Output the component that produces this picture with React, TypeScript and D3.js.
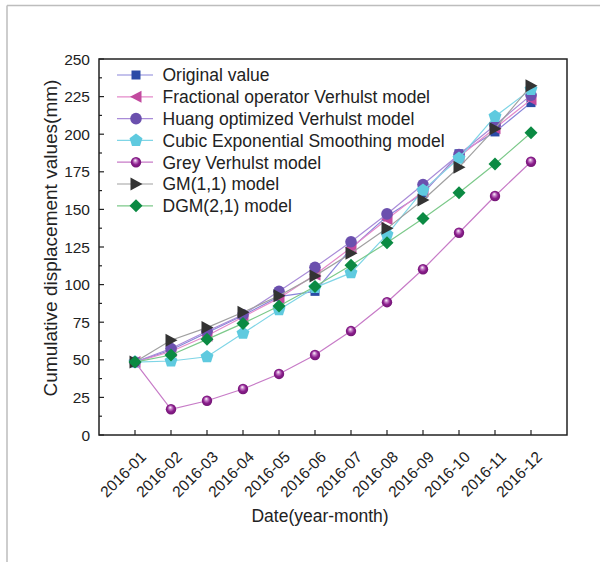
import React from 'react';
import * as d3 from 'd3';

const months = ['2016-01', '2016-02', '2016-03', '2016-04', '2016-05', '2016-06',
  '2016-07', '2016-08', '2016-09', '2016-10', '2016-11', '2016-12'];

const originalValue = [48.5, 56.5, 68, 79.5, 92, 95.5, 124, 145.5, 160.5, 187, 201.5, 221];
const fractionalVerhulst = [48.5, 55.5, 66, 78.5, 91, 106.5, 124.5, 143.5, 162, 185, 204, 223];
const huangVerhulst = [48.5, 57.5, 69, 80, 95.5, 111.5, 128.5, 147, 166.5, 186.5, 206, 226];
const cubicSmoothing = [48.5, 49.2, 52, 67.6, 83.3, 98, 107.8, 133.2, 162.7, 184, 211.8, 229.8];
const greyVerhulst = [48.5, 17.1, 22.8, 30.6, 40.6, 53.2, 69.1, 88.3, 110.2, 134.5, 158.9, 181.7];
const gm11 = [48.5, 63, 71.4, 81.6, 92.6, 105.8, 120.8, 137.4, 156.3, 178, 203.7, 232.2];
const dgm21 = [48.5, 53.2, 63.6, 74.2, 85.8, 98.8, 112.8, 127.9, 143.9, 161.1, 180.2, 201];

const yTicks = [0, 25, 50, 75, 100, 125, 150, 175, 200, 225, 250];

const series = [
  { name: 'Original value', values: originalValue, marker: 'square', fill: '#2B4BA6', stroke: '#8A86DA' },
  { name: 'Fractional operator Verhulst model', values: fractionalVerhulst, marker: 'triLeft', fill: '#C24A9F', stroke: '#E48ACA' },
  { name: 'Huang optimized Verhulst model', values: huangVerhulst, marker: 'circle', fill: '#6B50AE', stroke: '#A98CD8' },
  { name: 'Cubic Exponential Smoothing model', values: cubicSmoothing, marker: 'pentagon', fill: '#5FCADF', stroke: '#7FD5E6' },
  { name: 'Grey Verhulst model', values: greyVerhulst, marker: 'sphere', fill: '#8A1E8C', stroke: '#C77BC7' },
  { name: 'GM(1,1) model', values: gm11, marker: 'triRight', fill: '#333333', stroke: '#A0A0A0' },
  { name: 'DGM(2,1) model', values: dgm21, marker: 'diamond', fill: '#0B8A43', stroke: '#7CC98A' },
];

const FONT = '"Liberation Sans", Arial, sans-serif';

function shapePath(kind: string, cx: number, cy: number) {
  const p = d3.path();
  if (kind === 'square') {
    p.rect(cx - 4.5, cy - 4.5, 9, 9);
  } else if (kind === 'triLeft') {
    p.moveTo(cx - 6, cy); p.lineTo(cx + 5.5, cy - 6); p.lineTo(cx + 5.5, cy + 6); p.closePath();
  } else if (kind === 'triRight') {
    p.moveTo(cx + 6.5, cy); p.lineTo(cx - 5.5, cy - 6.5); p.lineTo(cx - 5.5, cy + 6.5); p.closePath();
  } else if (kind === 'diamond') {
    p.moveTo(cx, cy - 6.5); p.lineTo(cx + 6.5, cy); p.lineTo(cx, cy + 6.5); p.lineTo(cx - 6.5, cy); p.closePath();
  } else if (kind === 'pentagon') {
    for (let k = 0; k < 5; k++) {
      const a = -Math.PI / 2 + (k * 2 * Math.PI) / 5;
      const px = cx + 6.8 * Math.cos(a), py = cy + 6.8 * Math.sin(a);
      if (k === 0) p.moveTo(px, py); else p.lineTo(px, py);
    }
    p.closePath();
  }
  return p.toString();
}

function Marker({ kind, cx, cy, fill }: { kind: string; cx: number; cy: number; fill: string }) {
  if (kind === 'circle') return <circle cx={cx} cy={cy} r={5.8} fill={fill} />;
  if (kind === 'sphere') return <circle cx={cx} cy={cy} r={5.2} fill="url(#sphereGrad)" />;
  return <path d={shapePath(kind, cx, cy)} fill={fill} />;
}

export default function App() {
  const x = d3.scaleLinear().domain([0, 13]).range([99, 567]);
  const y = d3.scaleLinear().domain([0, 250]).range([435, 59]);
  const line = d3.line<number>().x((_, i) => x(i + 1)).y(d => y(d));
  const minor = d3.range(12.5, 250, 25);

  const legendX = 117;
  const legendY = 75;
  const legendStep = 21.8;

  return (
    <svg width={600} height={562} style={{ position: 'absolute', left: 0, top: 0, background: '#fff' }}
      fontFamily={FONT}>
      <defs>
        <radialGradient id="sphereGrad" cx="0.5" cy="0.5" r="0.55" fx="0.42" fy="0.3">
          <stop offset="0" stopColor="#ffffff" />
          <stop offset="0.3" stopColor="#c27ac4" />
          <stop offset="0.6" stopColor="#8A1E8C" />
          <stop offset="1" stopColor="#6e1470" />
        </radialGradient>
      </defs>
      {/* outer crop frame */}
      <line x1={7} y1={5.5} x2={600} y2={5.5} stroke="#bdbdbd" strokeWidth={1.5} />
      <line x1={7} y1={5.5} x2={7} y2={562} stroke="#bdbdbd" strokeWidth={1.5} />

      {/* series */}
      {series.map(s => (
        <g key={s.name}>
          <path d={line(s.values) || ''} fill="none" stroke={s.stroke} strokeWidth={1.2} />
          {s.values.map((v, i) => (
            <Marker key={i} kind={s.marker} cx={x(i + 1)} cy={y(v)} fill={s.fill} />
          ))}
        </g>
      ))}

      {/* frame */}
      <rect x={x(0)} y={y(250)} width={x(13) - x(0)} height={y(0) - y(250)} fill="none" stroke="#222" strokeWidth={1.5} />

      {/* y ticks */}
      {yTicks.map(t => (
        <g key={t}>
          <line x1={x(0)} x2={x(0) + 5} y1={y(t)} y2={y(t)} stroke="#222" strokeWidth={1.2} />
          <text x={90} y={y(t)} dy="0.36em" textAnchor="end" fontSize={15.5} fill="#222">{t}</text>
        </g>
      ))}
      {minor.map(t => (
        <line key={t} x1={x(0)} x2={x(0) + 3} y1={y(t)} y2={y(t)} stroke="#222" strokeWidth={1.2} />
      ))}

      {/* x ticks */}
      {months.map((m, i) => {
        const px = x(i + 1);
        return (
          <g key={m}>
            <line x1={px} x2={px} y1={y(0)} y2={y(0) - 5} stroke="#222" strokeWidth={1.2} />
            <text transform={`translate(${px + 12},458) rotate(-45)`} textAnchor="end" fontSize={15.5} fill="#222">{m}</text>
          </g>
        );
      })}

      {/* axis titles */}
      <text x={320} y={522} textAnchor="middle" fontSize={17.5} fill="#222">Date(year-month)</text>
      <text transform={`translate(57,${238}) rotate(-90)`} textAnchor="middle" fontSize={19} fill="#222">
        Cumulative displacement values(mm)
      </text>

      {/* legend */}
      {series.map((s, i) => {
        const ly = legendY + i * legendStep;
        return (
          <g key={s.name}>
            <line x1={legendX} x2={legendX + 36} y1={ly} y2={ly} stroke={s.stroke} strokeWidth={1.2} />
            <Marker kind={s.marker} cx={legendX + 19} cy={ly} fill={s.fill} />
            <text x={162.5} y={ly} dy="0.36em" fontSize={17.5} fill="#222">{s.name}</text>
          </g>
        );
      })}
    </svg>
  );
}
